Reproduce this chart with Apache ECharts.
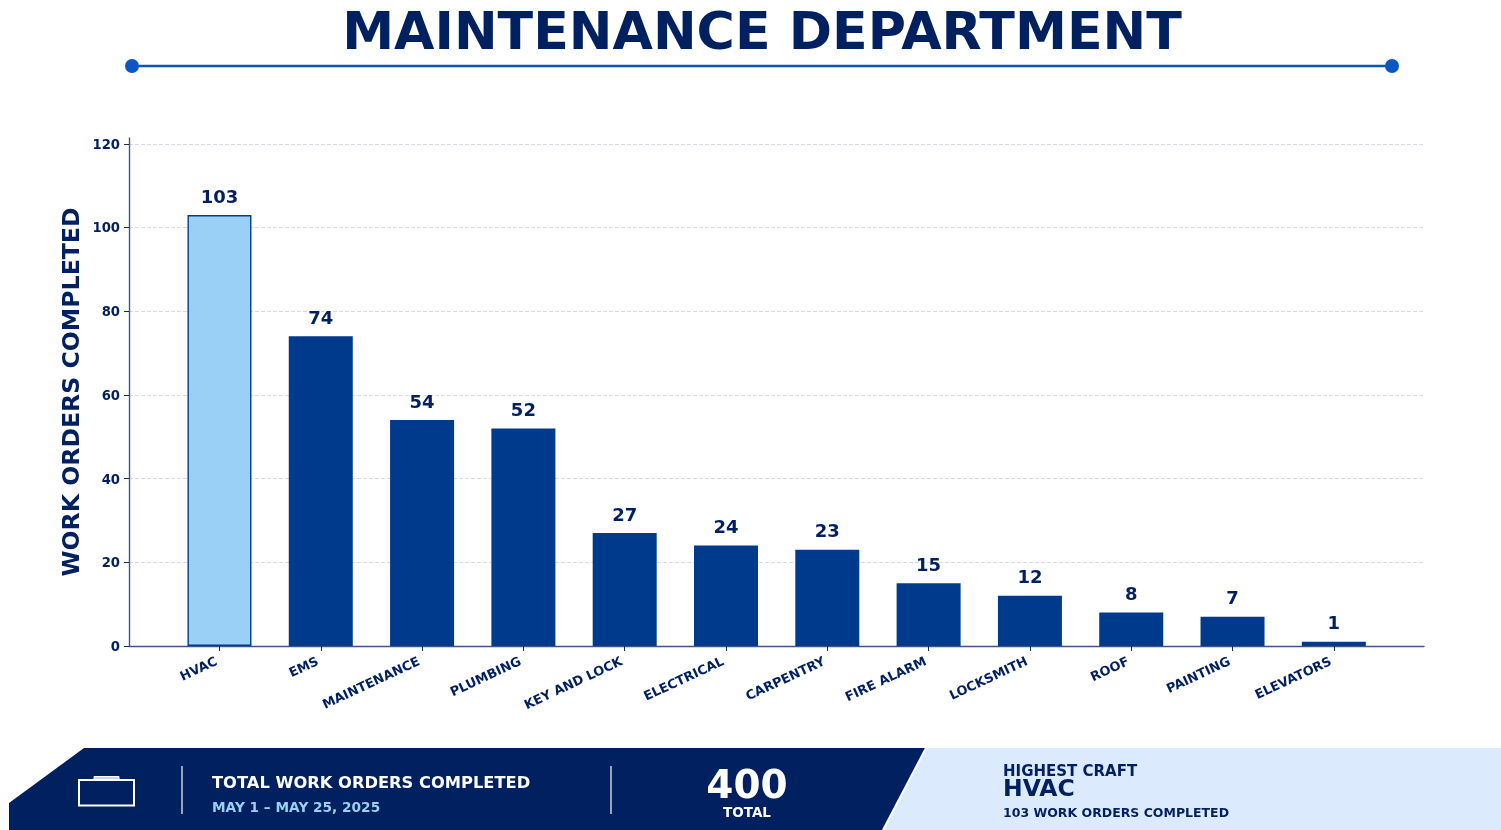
<!DOCTYPE html>
<html><head><meta charset="utf-8">
<style>html,body{margin:0;padding:0;background:#fff}#c{width:1501px;height:830px}</style>
<script src="https://cdn.jsdelivr.net/npm/echarts@6/dist/echarts.min.js"></script>
</head><body><div id="c"></div>
<script>
const categories = ['HVAC','EMS','MAINTENANCE','PLUMBING','KEY AND LOCK','ELECTRICAL','CARPENTRY','FIRE ALARM','LOCKSMITH','ROOF','PAINTING','ELEVATORS'];
const workOrders = [103,74,54,52,27,24,23,15,12,8,7,1];
const yTicks = [0,20,40,60,80,100,120];
const NAVY='#00205f', BLUE='#003a8c', LIGHT='#9ad0f5', F='DejaVu Sans';
const xTicks = categories.map((_,i)=>i);
const chart = echarts.init(document.getElementById('c'),null,{renderer:'canvas'});
const txt=(x,y,text,size,fill,align)=>({type:'text',x,y,silent:true,z:10,style:{text,x:0,y:0,font:`bold ${size}px "${F}"`,fill,textAlign:align||'left',textVerticalAlign:'middle'}});
chart.setOption({
  animation:false,
  grid:{left:129,right:77,top:138,bottom:184,containLabel:false},
  xAxis:{type:'value',min:-0.893,max:11.89,
    axisLine:{show:true,onZero:false,lineStyle:{color:'#3d5688',width:1.4}},
    axisTick:{show:true,length:5,customValues:xTicks,lineStyle:{color:'#1a2a50',width:1}},
    splitLine:{show:false},
    axisLabel:{customValues:xTicks,rotate:25,margin:14,padding:[0,3,0,0],fontFamily:F,fontWeight:'bold',fontSize:12.9,color:NAVY,
      formatter:v=>categories[Math.round(v)]}},
  yAxis:{type:'value',min:0,max:121.4,
    name:'WORK ORDERS COMPLETED',nameLocation:'middle',nameGap:56,nameMoveOverlap:false,
    nameTextStyle:{fontFamily:F,fontWeight:'bold',fontSize:23.6,color:NAVY,verticalAlign:'middle'},
    axisLine:{show:true,onZero:false,lineStyle:{color:'#3d5688',width:1.4}},
    axisTick:{show:true,length:5,customValues:yTicks,lineStyle:{color:'#1a2a50',width:1}},
    axisLabel:{customValues:yTicks,margin:9,verticalAlign:'top',lineHeight:3,fontFamily:F,fontWeight:'bold',fontSize:13.2,color:NAVY},
    splitLine:{show:true,lineStyle:{type:'dashed',color:'#d6dae3',width:1}}},
  series:[{type:'bar',barWidth:64,
    data:workOrders.map((v,i)=>({value:[i,v],itemStyle:i===0?{color:LIGHT,borderColor:BLUE,borderWidth:1.4}:{color:BLUE}})),
    label:{show:true,position:'top',distance:8,fontFamily:F,fontWeight:'bold',fontSize:18,color:NAVY,formatter:p=>p.value[1]}}],
  graphic:[
    txt(762,35,'MAINTENANCE DEPARTMENT',52.2,NAVY,'center'),
    {type:'line',silent:true,shape:{x1:132,y1:66,x2:1392,y2:66},style:{stroke:'#0a56b8',lineWidth:2.5}},
    {type:'circle',silent:true,shape:{cx:132,cy:66,r:7},style:{fill:'#0a56c4'}},
    {type:'circle',silent:true,shape:{cx:1392,cy:66,r:7},style:{fill:'#0a56c4'}},
    {type:'polygon',silent:true,shape:{points:[[926,748],[1501,748],[1501,830],[883,830]]},style:{fill:'#dbeafc'}},
    {type:'polygon',silent:true,shape:{points:[[84,748],[926,748],[883,830],[9,830],[9,803]]},style:{fill:NAVY}},
    {type:'line',silent:true,shape:{x1:926,y1:748,x2:883,y2:830},style:{stroke:'#fff',lineWidth:2}},
    {type:'rect',silent:true,shape:{x:79,y:780,width:55,height:25.5},style:{fill:'none',stroke:'#fff',lineWidth:2}},
    {type:'rect',silent:true,shape:{x:94,y:776.5,width:25,height:3},style:{fill:'#c5d6f0',stroke:'#fff',lineWidth:1}},
    {type:'line',silent:true,shape:{x1:182,y1:766,x2:182,y2:814},style:{stroke:'#c8d0e0',lineWidth:1.5}},
    {type:'line',silent:true,shape:{x1:611,y1:766,x2:611,y2:814},style:{stroke:'#c8d0e0',lineWidth:1.5}},
    txt(212,784,'TOTAL WORK ORDERS COMPLETED',16.3,'#ffffff'),
    txt(212,808.5,'MAY 1 \u2013 MAY 25, 2025',13.7,LIGHT),
    txt(747,788,'400',39,'#ffffff','center'),
    txt(747,813.5,'TOTAL',13.5,'#ffffff','center'),
    txt(1003,772.5,'HIGHEST CRAFT',15,NAVY),
    txt(1003,790,'HVAC',23.5,NAVY),
    txt(1003,813.5,'103 WORK ORDERS COMPLETED',12.5,NAVY)
  ]
});
</script></body></html>
